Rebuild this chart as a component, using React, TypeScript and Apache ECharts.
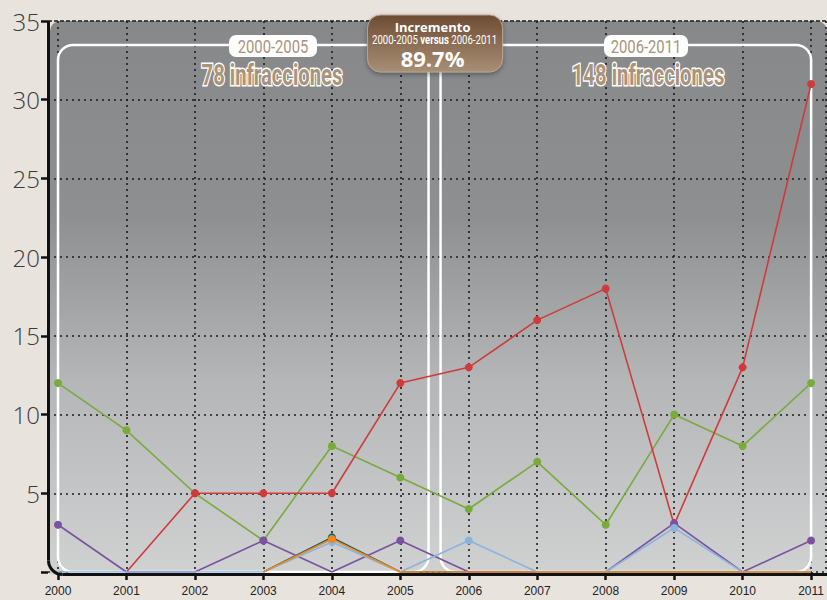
import React, { useEffect, useRef } from "react";
import * as echarts from "echarts";

const years = ["2000", "2001", "2002", "2003", "2004", "2005", "2006", "2007", "2008", "2009", "2010", "2011"];
const rojo = [null, 0, 5, 5, 5, 12, 13, 16, 18, 3, 13, 31];
const verde = [12, 9, 5, 2, 8, 6, 4, 7, 3, 10, 8, 12];
const morado = [3, 0, 0, 2, 0, 2, 0, 0, 0, 3.1, 0, 2];
const azul = [0, 0, 0, 0, 1.9, 0, 2, 0, 0, 2.8, 0, 0];
const naranja = [null, null, null, 0, 2.1, 0, 0, 0, 0, 0, 0, 0];
const verdeAzulado = [null, null, null, 0, 2.2, 0, 0, 0, 0, 0, 0, 0];
const yMin = 0;
const yMax = 35;
const yStep = 5;
const periodo1 = "2000-2005";
const periodo2 = "2006-2011";
const total1 = "78 infracciones";
const total2 = "148 infracciones";
const incrementoTitulo = "Incremento";
const incrementoValor = "89.7%";

const cond = "Roboto, 'Liberation Sans', sans-serif";
const tan = "#a8947d";

function withZ(el: any, z: number): any {
  const out: any = { ...el, z };
  if (el.children) out.children = el.children.map((c: any) => withZ(c, z));
  return out;
}

export default function App() {
  const ref = useRef<HTMLDivElement>(null);
  useEffect(() => {
    document.body.style.margin = "0";
    document.body.style.background = "#e9e3de";
    const chart = echarts.init(ref.current!, undefined, { renderer: "svg" });
    const dotted = { color: "#1c1c1c", type: [2, 4] as any, width: 1.6 };
    const sym = (v: any) => (typeof v === "number" && v > 0 ? 8 : 0);
    const mk = (name: string, data: any[], color: string, z: number) => ({
      name,
      type: "line",
      data,
      xAxisIndex: 0,
      yAxisIndex: 0,
      symbol: "circle",
      symbolSize: sym,
      z,
      lineStyle: { color, width: 1.6 },
      itemStyle: { color },
    });
    chart.setOption({
      animation: false,
      backgroundColor: "#e9e3de",
      grid: [
        { left: 58, right: 9, top: 21, bottom: 28 },
        { left: 48, right: 0, top: 21, bottom: 28 },
      ],
      xAxis: [
        {
          type: "category",
          gridIndex: 0,
          data: years,
          boundaryGap: false,
          axisLine: { show: false },
          axisTick: { show: true, length: 8, lineStyle: { color: "#111", width: 2.5 } },
          axisLabel: { color: "#222", fontSize: 12, margin: 13, interval: 0, fontFamily: "'Liberation Sans', Arial, sans-serif" },
          splitLine: { show: true, lineStyle: dotted },
        },
        { type: "value", gridIndex: 1, show: false, min: 0, max: 1 },
      ],
      yAxis: [
        { type: "value", gridIndex: 0, min: yMin, max: yMax, interval: yStep, show: false },
        {
          type: "value",
          gridIndex: 1,
          min: yMin,
          max: yMax,
          interval: yStep,
          axisLine: { show: false },
          axisTick: { show: true, length: 7, lineStyle: { color: "#111", width: 2.5 } },
          axisLabel: {
            color: "#3a3a3a",
            fontSize: 24,
            margin: 8,
            fontFamily: "'Open Sans', sans-serif",
            fontWeight: 300,
            formatter: (v: number) => (v === 0 ? "" : String(v)),
          },
          splitLine: { show: true, lineStyle: dotted },
        },
      ],
      series: [
        mk("verde azulado", verdeAzulado, "#0f5f68", 3),
        mk("verde", verde, "#79ab3b", 4),
        mk("rojo", rojo, "#d13a3a", 5),
        mk("morado", morado, "#7a529f", 6),
        mk("azul", azul, "#8cb3dd", 7),
        mk("naranja", naranja, "#f0861c", 8),
      ],
    });

    const p = (i: number, v: number) => chart.convertToPixel({ gridIndex: 0 }, [i, v]) as number[];
    const [x0, yZero] = p(0, 0);
    const [x11, yTop] = p(11, yMax);
    const x5 = p(5, 0)[0];
    const x6 = p(6, 0)[0];
    const mid = (x5 + x6) / 2;
    const rTop = 45;
    const axisY = yZero + 2.5;
    const axisX = 48.5;
    const cr = 14;
    const W = 827;

    const white = { fill: "none", stroke: "#ffffff", lineWidth: 2.5 };
    const labelBox = (cx: number, text: string, w: number) =>
      withZ(
        {
          type: "group",
          children: [
            { type: "rect", shape: { x: cx - w / 2, y: 35, width: w, height: 22, r: 7 }, style: { fill: "#fff" } },
            {
              type: "group",
              x: cx,
              y: 46.5,
              scaleX: 0.78,
              children: [
                { type: "text", style: { x: 0, y: 0, text, align: "center", verticalAlign: "middle", fill: tan, font: `19px ${cond}` } },
              ],
            },
          ],
        },
        20
      );
    const total = (cx: number, text: string) =>
      withZ(
        {
          type: "group",
          x: cx,
          y: 75,
          scaleX: 0.7,
          children: [
            {
              type: "text",
              style: {
                x: 0,
                y: 0,
                text,
                align: "center",
                verticalAlign: "middle",
                fill: tan,
                stroke: "#fff",
                lineWidth: 3,
                font: `bold 29px ${cond}`,
              },
            },
          ],
        },
        20
      );

    const badge = withZ(
      {
        type: "group",
        children: [
          {
            type: "rect",
            shape: { x: mid - 67, y: 15, width: 135, height: 57, r: 13 },
            style: {
              fill: new echarts.graphic.LinearGradient(0, 0, 0, 1, [
                { offset: 0, color: "#6c4c33" },
                { offset: 0.5, color: "#8c6e53" },
                { offset: 1, color: "#a78f76" },
              ]),
              stroke: "#b9a58f",
              lineWidth: 1,
              shadowBlur: 5,
              shadowColor: "rgba(0,0,0,0.35)",
              shadowOffsetY: 2,
            },
          },
          {
            type: "text",
            style: { x: mid - 2, y: 27, text: incrementoTitulo, align: "center", verticalAlign: "middle", fill: "#fff", font: "bold 13px 'Open Sans', sans-serif" },
          },
          {
            type: "group",
            x: mid,
            y: 40,
            scaleX: 0.8,
            children: [
              {
                type: "text",
                style: {
                  x: 0,
                  y: 0,
                  text: "{a|" + periodo1 + " }{b|versus}{a| " + periodo2 + "}",
                  align: "center",
                  verticalAlign: "middle",
                  rich: {
                    a: { fill: "#fff", fontSize: 12, fontFamily: "Roboto, sans-serif" },
                    b: { fill: "#fff", fontSize: 12, fontWeight: "bold", fontFamily: "Roboto, sans-serif" },
                  },
                },
              },
            ],
          },
          {
            type: "text",
            style: { x: mid - 2, y: 58, text: incrementoValor, align: "center", verticalAlign: "middle", fill: "#fff", font: "bold 22px 'Open Sans', sans-serif" },
          },
        ],
      },
      30
    );

    chart.setOption({
      graphic: [
        {
          type: "rect",
          z: -5,
          shape: { x: 50, y: yTop, width: W - 50, height: axisY - yTop, r: [10, 10, 0, 0] },
          style: {
            fill: new echarts.graphic.LinearGradient(0, 0, 0, 1, [
              { offset: 0, color: "#87888a" },
              { offset: 0.35, color: "#8e8f91" },
              { offset: 0.65, color: "#b5b6b8" },
              { offset: 1, color: "#d0d1d1" },
            ]),
          },
        },
        { type: "line", z: -4, shape: { x1: 50, y1: yTop, x2: W, y2: yTop }, style: { stroke: "#1c1c1c", lineWidth: 1.6, lineDash: [2, 4] } },
        { type: "line", z: -4, shape: { x1: W - 1, y1: yTop, x2: W - 1, y2: axisY }, style: { stroke: "#1c1c1c", lineWidth: 1.6, lineDash: [2, 4] } },
        { type: "rect", z: 1, shape: { x: x0, y: rTop, width: mid - 6 - x0, height: yZero - rTop, r: 15 }, style: white },
        { type: "rect", z: 1, shape: { x: mid + 6, y: rTop, width: x11 - mid - 6, height: yZero - rTop, r: 15 }, style: white },
        labelBox(273, periodo1, 88),
        labelBox(646, periodo2, 84),
        total(272, total1),
        total(648, total2),
        { type: "line", z: 2, shape: { x1: axisX, y1: yTop, x2: axisX, y2: axisY - cr }, style: { stroke: "#111", lineWidth: 3 } },
        {
          type: "arc",
          z: 2,
          shape: { cx: axisX + cr, cy: axisY - cr, r: cr, startAngle: Math.PI / 2, endAngle: Math.PI, clockwise: true },
          style: { stroke: "#111", lineWidth: 3, fill: "none" },
        },
        { type: "line", z: 2, shape: { x1: axisX + cr, y1: axisY, x2: W, y2: axisY }, style: { stroke: "#111", lineWidth: 3 } },
        badge,
      ],
    });
    return () => chart.dispose();
  }, []);
  return <div ref={ref} style={{ width: 827, height: 600, background: "#e9e3de" }} />;
}
